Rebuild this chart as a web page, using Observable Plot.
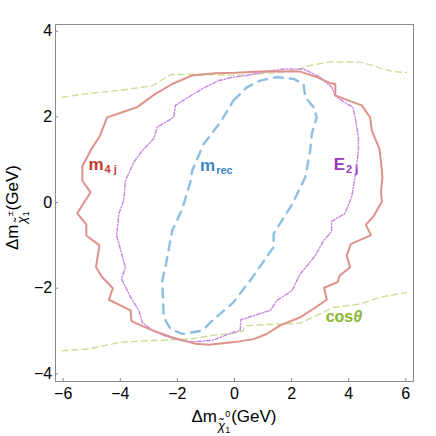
<!DOCTYPE html>
<html><head><meta charset="utf-8">
<script src="https://cdn.jsdelivr.net/npm/d3@7"></script>
<script src="https://cdn.jsdelivr.net/npm/@observablehq/plot@0.6"></script>
<style>html,body{margin:0;padding:0;background:#fff;} svg{display:block;}</style>
</head><body><div id="chart"></div>
<script>
const xTicks = [-6, -4, -2, 0, 2, 4, 6];
const yTicks = [-4, -2, 0, 2, 4];

// m_{4j} contour (closed)
const m4jX = [0.04,1.13,2.30,2.88,3.35,3.53,3.53,3.93,4.46,4.75,4.81,5.08,5.14,5.18,5.13,5.16,4.86,4.60,4.78,4.07,3.93,4.05,3.68,3.61,3.14,3.23,2.77,2.30,1.60,1.13,0.67,0.00,-0.90,-1.37,-2.18,-3.00,-3.61,-3.64,-4.40,-4.26,-4.64,-4.85,-4.73,-5.19,-5.19,-5.51,-5.04,-5.33,-5.33,-5.01,-4.72,-4.46,-3.93,-3.41,-2.77,-2.18,-1.48,-0.67];
const m4jY = [3.03,3.07,3.06,2.93,2.79,2.77,2.50,2.40,2.27,1.99,1.68,1.25,0.90,0.59,0.24,0.02,-0.33,-0.52,-0.76,-0.97,-1.24,-1.51,-1.71,-1.86,-1.99,-2.27,-2.48,-2.68,-2.87,-3.07,-3.19,-3.26,-3.32,-3.30,-3.15,-2.95,-2.77,-2.52,-2.27,-2.00,-1.74,-1.51,-1.00,-0.77,-0.51,-0.25,0.24,0.51,0.85,1.25,1.55,1.99,2.11,2.23,2.54,2.77,2.97,3.02];

// E_{2j} contour (closed)
const e2jX = [-0.55,-0.04,0.43,1.13,1.72,2.42,3.00,3.41,3.53,3.76,4.14,4.23,4.34,4.34,4.22,4.10,3.86,3.40,3.40,3.12,2.83,2.30,2.01,1.48,1.25,0.22,0.20,-0.04,-0.78,-1.60,-2.30,-2.88,-3.23,-3.35,-3.64,-3.96,-3.82,-4.13,-4.05,-3.88,-3.82,-3.53,-3.23,-2.83,-2.71,-2.13,-2.07,-1.72,-1.13];
const e2jY = [2.85,2.93,2.97,3.06,3.12,3.12,2.93,2.69,2.50,2.38,2.23,1.99,1.53,1.21,0.59,0.12,-0.26,-0.44,-0.68,-0.89,-1.24,-1.67,-2.06,-2.29,-2.52,-2.74,-2.99,-3.03,-3.22,-3.26,-3.15,-2.99,-2.80,-2.52,-2.21,-1.78,-1.51,-0.77,-0.26,0.05,0.51,0.94,1.21,1.49,1.76,1.99,2.27,2.42,2.66];

// m_rec contour (closed)
const mrecX = [-0.04,0.43,0.90,1.48,2.07,2.42,2.48,2.77,2.88,2.71,2.65,2.48,2.01,1.37,1.37,0.55,-0.04,-0.78,-1.13,-1.83,-2.24,-2.48,-2.53,-2.42,-2.18,-1.83,-1.54,-1.48,-1.08,-0.49];
const mrecY = [2.38,2.69,2.85,2.93,2.89,2.77,2.46,2.23,1.99,1.61,1.21,0.59,-0.05,-0.73,-1.04,-1.82,-2.33,-2.76,-2.99,-3.07,-2.95,-2.68,-1.82,-1.51,-0.65,-0.15,0.50,0.75,1.37,1.88];

// cos(theta) contour: two open branches
const cosTopX = [-6.04,-5.10,-3.93,-2.88,-2.24,-1.37,0.04,1.20,2.06,2.64,3.34,4.39,4.86,5.21,5.56,6.02];
const cosTopY = [2.46,2.55,2.63,2.73,2.99,3.00,2.97,3.02,3.08,3.20,3.29,3.28,3.20,3.12,3.06,3.04];
const cosBotX = [-6.04,-5.10,-3.99,-2.77,-1.60,-0.63,0.04,0.30,0.36,1.13,2.30,3.00,3.47,4.40,5.10,6.02];
const cosBotY = [-3.46,-3.42,-3.26,-3.22,-3.19,-3.09,-3.05,-3.00,-2.88,-2.85,-2.82,-2.60,-2.45,-2.37,-2.21,-2.10];

// curve labels (data coordinates of the label baseline start)
const labelNames = ["m4j", "mrec", "E2j", "cos"];
const labelX = [-5.10, -1.19, 3.49, 3.21];
const labelY = [0.76, 0.73, 0.76, -2.80];

const FONT = "'Liberation Sans', Arial, Helvetica, sans-serif";

function pts(xs, ys, closed) {
  const a = xs.map((x, i) => ({x, y: ys[i]}));
  if (closed) a.push(a[0]);
  return a;
}

const plot = Plot.plot({
  width: 436, height: 436,
  marginLeft: 55, marginRight: 23, marginTop: 24, marginBottom: 55,
  style: {fontFamily: FONT, fontSize: "16px", color: "#000", background: "#fff"},
  x: {domain: [-6.27, 6.27], label: null},
  y: {domain: [-4.18, 4.16], label: null},
  marks: [
    Plot.line(pts(cosTopX, cosTopY, false), {x: "x", y: "y", stroke: "#c8df98", strokeWidth: 1.4, strokeDasharray: "6,4"}),
    Plot.line(pts(cosBotX, cosBotY, false), {x: "x", y: "y", stroke: "#c8df98", strokeWidth: 1.4, strokeDasharray: "6,4"}),
    Plot.line(pts(mrecX, mrecY, true), {x: "x", y: "y", stroke: "#8dbfe2", strokeWidth: 2.4, strokeDasharray: "9,7"}),
    Plot.line(pts(e2jX, e2jY, true), {x: "x", y: "y", stroke: "#c98ae6", strokeWidth: 1.5, strokeDasharray: "4,2,1,2"}),
    Plot.line(pts(m4jX, m4jY, true), {x: "x", y: "y", stroke: "#de928a", strokeWidth: 2}),
    Plot.frame({stroke: "#8a8a8a", strokeWidth: 1}),
    Plot.axisX(xTicks, {tickSize: -3, tickPadding: 9, stroke: "#8a8a8a", fill: "#000", fontSize: 16}),
    Plot.axisY(yTicks, {tickSize: -3, tickPadding: 6.3, stroke: "#8a8a8a", fill: "#000", fontSize: 16})
  ]
});
document.getElementById("chart").appendChild(plot);

const sx = plot.scale("x"), sy = plot.scale("y");
const svg = d3.select(plot);

function rich(g, x, y, parts, attrs) {
  const t = g.append("text").attr("x", x).attr("y", y)
    .attr("font-family", FONT).attr("text-anchor", "start");
  for (const k in attrs) t.attr(k, attrs[k]);
  parts.forEach(p => {
    const s = t.append("tspan").text(p.t).attr("font-size", p.s);
    if (p.dx) s.attr("dx", p.dx);
    if (p.dy) s.attr("dy", p.dy);
    if (p.i) s.attr("font-style", "italic");
  });
  return t;
}

const labelParts = {
  m4j: {parts: [{t: "m", s: 17}, {t: "4 j", s: 11, dy: 3, dx: 1}], color: "#c43a2e"},
  mrec: {parts: [{t: "m", s: 17}, {t: "rec", s: 11, dy: 3, dx: 1}], color: "#3b84c5"},
  E2j: {parts: [{t: "E", s: 17}, {t: "2 j", s: 11, dy: 3, dx: 1}], color: "#9837b8"},
  cos: {parts: [{t: "cos", s: 16}, {t: "θ", s: 16, i: true}], color: "#86b82f"}
};
labelNames.forEach((n, i) => {
  const L = labelParts[n];
  rich(svg, sx.apply(labelX[i]), sy.apply(labelY[i]), L.parts, {fill: L.color, "font-weight": "bold"});
});

// x-axis title: Δm_{χ̃1^0}(GeV)
rich(svg, 191.5, 422, [
  {t: "Δm", s: 17},
  {t: "χ̃", s: 13, dy: 8, i: true, dx: 1},
  {t: "1", s: 9, dy: 3},
  {t: "0", s: 9, dx: -5, dy: -16},
  {t: "(GeV)", s: 17, dy: 5, dx: 1}
], {fill: "#000"});

// y-axis title: Δm_{χ̃1^±}(GeV), rotated
const gy = svg.append("g").attr("transform", "translate(18,0) rotate(-90)");
rich(gy, -250, 0, [
  {t: "Δm", s: 17},
  {t: "χ̃", s: 13, dy: 8, i: true, dx: 1},
  {t: "1", s: 9, dy: 3},
  {t: "±", s: 9, dx: -5, dy: -16},
  {t: "(GeV)", s: 17, dy: 5, dx: 1}
], {fill: "#000"});
</script>
</body></html>
